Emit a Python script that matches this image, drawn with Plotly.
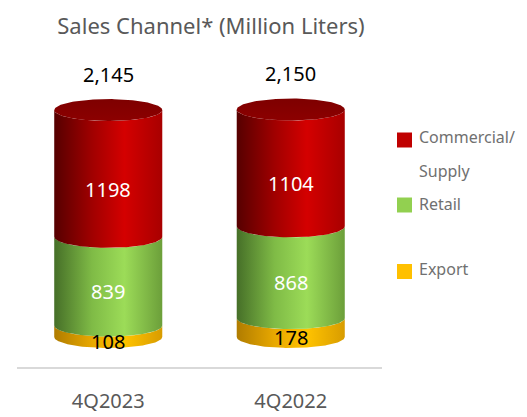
import numpy as np
import plotly.graph_objects as go

# ---- data ----
categories = ["4Q2023", "4Q2022"]
export = [108, 178]
retail = [839, 868]
commercial = [1198, 1104]
totals = [2145, 2150]
series_names = ["Export", "Retail", "Commercial/Supply"]
legend_lines = [["Commercial/", "Supply"], ["Retail"], ["Export"]]
title_text = "Sales Channel* (Million Liters)"

# ---- styling / geometry ----
W, H = 527, 417
ML, MR, MT, MB = 17, 145, 50, 50
PW, PH = W - ML - MR, H - MT - MB
Y_RANGE = [-284, 2713]
UPP = (Y_RANGE[1] - Y_RANGE[0]) / PH      # data units per pixel (y)
B = 11 * UPP                              # ellipse semi-axis (y, data units)
A = 0.296                                 # cylinder half width (x, data units)

grad = {
    "Commercial/Supply": [[0, "#560000"], [0.35, "#a00000"], [0.65, "#d40000"], [1, "#a80000"]],
    "Retail": [[0, "#466f28"], [0.35, "#7fbb46"], [0.65, "#9cdc58"], [1, "#6c9f3a"]],
    "Export": [[0, "#b07c00"], [0.35, "#e8a800"], [0.65, "#ffc300"], [1, "#d89c00"]],
}
solid = {"Commercial/Supply": "#c00000", "Retail": "#92d050", "Export": "#ffc000"}
label_color = {"Commercial/Supply": "white", "Retail": "white", "Export": "black"}

fig = go.Figure()
theta = np.linspace(0, np.pi, 80)


def front_face(xc, lo, hi):
    xs = np.concatenate([xc - A * np.cos(theta), xc + A * np.cos(theta)])
    ys = np.concatenate([lo - B * np.sin(theta), hi - B * np.sin(theta)])
    return xs, ys


stack = {"Export": export, "Retail": retail, "Commercial/Supply": commercial}
annotations = []
for i, cat in enumerate(categories):
    base = 0
    for k, name in enumerate(series_names):
        v = stack[name][i]
        lo, hi = base, base + v
        xs, ys = front_face(i, lo, hi)
        fig.add_trace(go.Scatter(
            x=xs, y=ys, fill="toself", mode="lines", line=dict(width=0),
            fillgradient=dict(type="horizontal", colorscale=grad[name]),
            showlegend=False, hoverinfo="skip"))
        shift = -10 if name != "Commercial/Supply" else -16
        annotations.append(dict(
            x=i, y=(lo + hi) / 2, xref="x", yref="y", text=str(v), showarrow=False,
            yshift=shift, font=dict(size=20, color=label_color[name], family="Noto Sans")))
        base = hi
    # top cap
    t = np.linspace(0, 2 * np.pi, 160)
    fig.add_trace(go.Scatter(
        x=i + A * np.cos(t), y=base + B * np.sin(t), fill="toself", mode="lines",
        line=dict(width=0),
        fillgradient=dict(type="vertical", colorscale=[[0, "#8c0000"], [1, "#7e0000"]]),
        showlegend=False, hoverinfo="skip"))
    annotations.append(dict(
        x=i, y=totals[i], xref="x", yref="y", text=f"{totals[i]:,}", showarrow=False,
        yshift=36, font=dict(size=20, color="black", family="Noto Sans")))


def px_x(px):
    return (px - ML) / PW


def px_y(py):
    return (H - MB - py) / PH


# manual legend
shapes = []
leg_sq_y = [140, 205, 271.5]
leg_txt_y = [[137, 171], [204], [269]]
leg_names = ["Commercial/Supply", "Retail", "Export"]
for j, name in enumerate(leg_names):
    cy = leg_sq_y[j]
    shapes.append(dict(type="rect", xref="paper", yref="paper",
                       x0=px_x(397), x1=px_x(412), y0=px_y(cy + 7.5), y1=px_y(cy - 7.5),
                       fillcolor=solid[name], line=dict(width=0)))
    for line_text, ty in zip(legend_lines[j], leg_txt_y[j]):
        annotations.append(dict(x=px_x(417), y=px_y(ty), xref="paper", yref="paper",
                                xanchor="left", yanchor="middle", text=line_text,
                                showarrow=False,
                                font=dict(size=16, color="#707070", family="Noto Sans")))

fig.update_layout(
    width=W, height=H, margin=dict(l=ML, r=MR, t=MT, b=MB, autoexpand=False),
    paper_bgcolor="white", plot_bgcolor="white",
    title=dict(text=title_text, x=211 / W, xanchor="center", y=1 - 26 / H,
               yanchor="middle", font=dict(size=22, color="#595959", family="Noto Sans")),
    xaxis=dict(range=[-0.5, 1.5], tickvals=list(range(len(categories))), ticktext=categories,
               showgrid=False, zeroline=False, showline=True, linecolor="#d9d9d9",
               linewidth=2, ticks="", ticklabelstandoff=15,
               tickfont=dict(size=20, color="#595959", family="Noto Sans"),
               automargin=False, fixedrange=True),
    yaxis=dict(range=Y_RANGE, visible=False, showgrid=False, zeroline=False,
               automargin=False, fixedrange=True),
    annotations=annotations, shapes=shapes, showlegend=False,
)

fig.write_html("out.html")
